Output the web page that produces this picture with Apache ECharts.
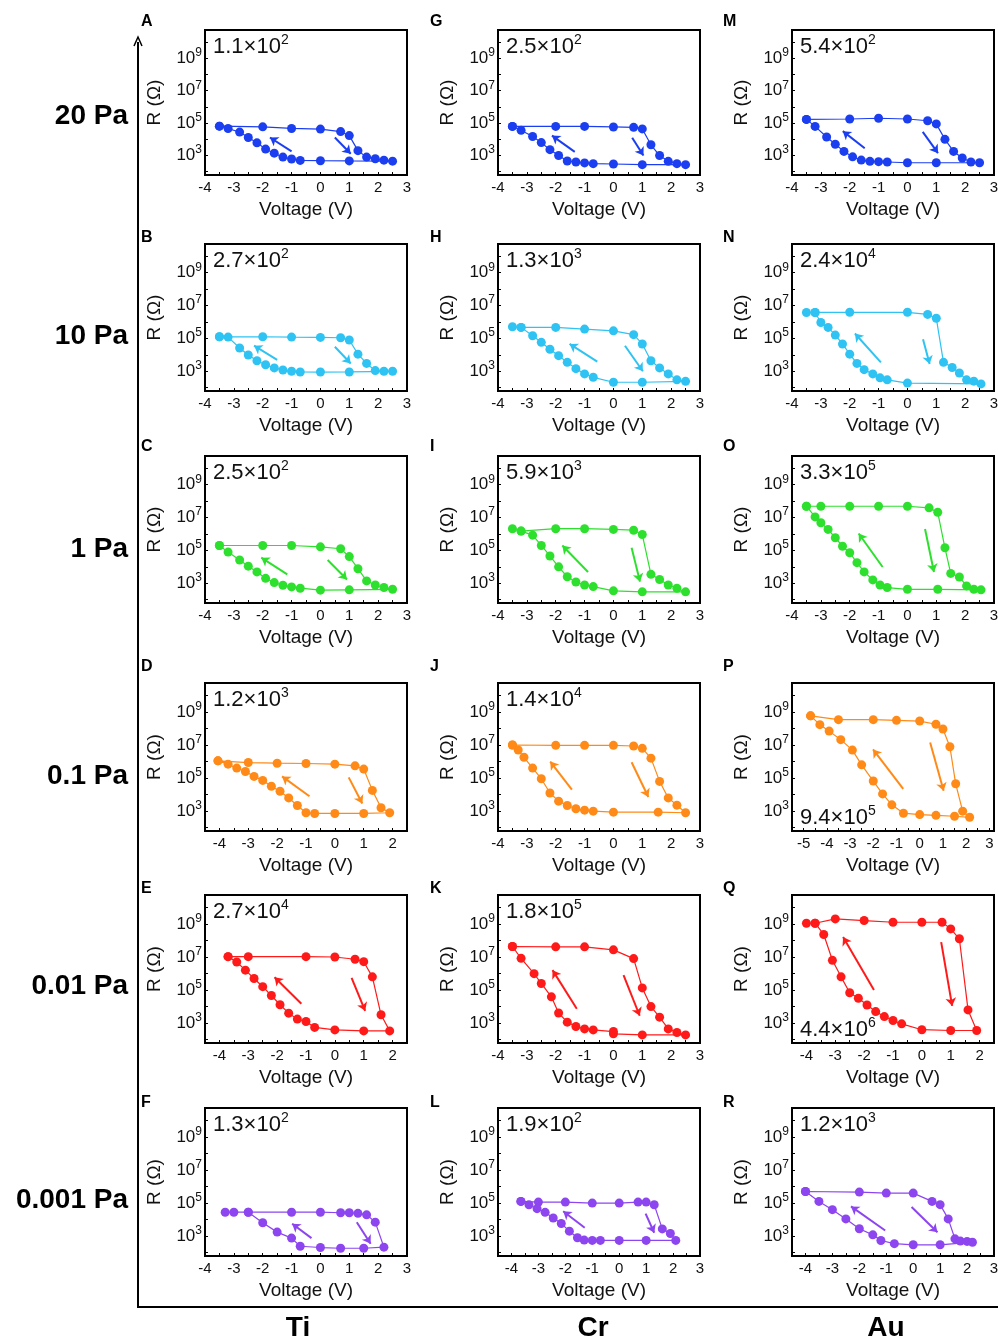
<!DOCTYPE html>
<html><head><meta charset="utf-8">
<script src="https://cdn.jsdelivr.net/npm/echarts@6/dist/echarts.min.js"></script>
<style>html,body{margin:0;padding:0;background:#fff}#c{width:998px;height:1339px}</style>
</head><body><div id="c"></div><script>
// ---------------- DATA ----------------
const rowLabels = ['20 Pa', '10 Pa', '1 Pa', '0.1 Pa', '0.01 Pa', '0.001 Pa'];
const colLabels = ['Ti', 'Cr', 'Au'];
const panelLetters = ['A','B','C','D','E','F','G','H','I','J','K','L','M','N','O','P','Q','R'];
const ratioBase = ['1.1','2.7','2.5','1.2','2.7','1.3','2.5','1.3','5.9','1.4','1.8','1.9','5.4','2.4','3.3','9.4','4.4','1.2'];
const ratioExp  = [2,2,2,3,4,2,2,3,3,4,5,2,2,4,5,5,6,3];
const xMin = [-4,-4,-4,-4.5,-4.5,-4, -4,-4,-4,-4,-4,-4.5, -4,-4,-4,-5.5,-4.5,-4.5];
const xMax = [3,3,3,2.5,2.5,3, 3,3,3,3,3,3, 3,3,3,3.2,2.5,3];
const yLabelExponents = [3, 5, 7, 9];
const yMin = 63, yMax = 5.6e10;

// loops: [voltage (V), resistance (Ohm)]
const loopA = [[-3.5,6.5e4],[-2,5.9e4],[-1,4.7e4],[0,4.3e4],[0.7,3.0e4],[1.0,1.7e4],[1.3,2.0e3],[1.6,800],[1.9,630],[2.2,520],[2.5,450],[1.0,465],[0,480],[-0.7,500],[-1.0,610],[-1.3,800],[-1.6,1.4e3],[-1.9,2.5e3],[-2.2,6.1e3],[-2.5,1.3e4],[-2.8,2.8e4],[-3.2,4.7e4],[-3.5,6.5e4]];
const loopB = [[-3.5,1.26e5],[-2,1.26e5],[-1,1.2e5],[0,1.15e5],[0.7,1.1e5],[1.0,8e4],[1.3,1.1e4],[1.6,3e3],[1.9,1.1e3],[2.2,1e3],[2.5,1e3],[1.0,910],[0,900],[-0.7,910],[-1.0,1e3],[-1.3,1.2e3],[-1.6,1.6e3],[-1.9,2.5e3],[-2.2,4.4e3],[-2.5,9.8e3],[-2.8,2.6e4],[-3.2,1.2e5],[-3.5,1.26e5]];
const loopC = [[-3.5,2e5],[-2,2e5],[-1,2e5],[0,1.66e5],[0.7,1.26e5],[1.0,4.2e4],[1.3,7.7e3],[1.6,1.4e3],[1.9,790],[2.2,550],[2.5,430],[1.0,400],[0,380],[-0.7,500],[-1.0,600],[-1.3,760],[-1.6,1.1e3],[-1.9,2e3],[-2.2,4.9e3],[-2.5,1.1e4],[-2.8,2.6e4],[-3.2,7.9e4],[-3.5,2e5]];
const loopD = [[-4.05,1.1e6],[-3.0,8.7e5],[-2,7.9e5],[-1,7.6e5],[0,6.9e5],[0.7,5.5e5],[1.0,3.5e5],[1.3,1.8e4],[1.6,1.6e3],[1.9,800],[1.0,725],[0,725],[-0.7,725],[-1.0,800],[-1.3,2.2e3],[-1.6,6.3e3],[-1.9,1.6e4],[-2.2,3.2e4],[-2.5,7.2e4],[-2.8,1.26e5],[-3.1,2.5e5],[-3.4,4e5],[-3.7,6.9e5],[-4.05,1.1e6]];
const loopE = [[-3.7,1.05e7],[-3.0,1.05e7],[-1,1.05e7],[0,1e7],[0.7,7.3e6],[1.0,5.2e6],[1.3,6.3e5],[1.6,3.2e3],[1.9,340],[1.0,340],[0,390],[-0.7,550],[-1.0,1.26e3],[-1.3,1.75e3],[-1.6,4e3],[-1.9,1.3e4],[-2.2,4.7e4],[-2.5,1.6e5],[-2.8,5e5],[-3.1,1.6e6],[-3.4,5e6],[-3.7,1.05e7]];
const loopF = [[-3.3,2.8e4],[-3.0,2.8e4],[-2.5,2.8e4],[-1.0,2.8e4],[0,2.8e4],[0.7,2.6e4],[1.0,2.6e4],[1.3,2.4e4],[1.6,1.95e4],[1.9,7e3],[2.2,215],[1.5,185],[0.7,185],[0,205],[-0.7,245],[-1.0,760],[-1.5,1.75e3],[-2.0,6.5e3],[-2.5,2.8e4]];
const loopG = [[-3.5,6.3e4],[-2,6.3e4],[-1,6.3e4],[0,5.8e4],[0.7,5.5e4],[1.0,4.4e4],[1.3,4.6e3],[1.6,1e3],[1.9,440],[2.2,316],[2.5,275],[1.0,275],[0,300],[-0.7,316],[-1.0,350],[-1.3,400],[-1.6,460],[-1.9,1e3],[-2.2,2.3e3],[-2.5,6.3e3],[-2.8,1.5e4],[-3.2,3.6e4],[-3.5,6.3e4]];
const loopH = [[-3.5,5.1e5],[-3.2,4.7e5],[-2,4.7e5],[-1,3.7e5],[0,2.9e5],[0.7,1.7e5],[1.0,4.6e4],[1.3,4.4e3],[1.6,1.6e3],[1.9,690],[2.2,300],[2.5,245],[1.0,215],[0,215],[-0.7,430],[-1.0,690],[-1.3,1.45e3],[-1.6,3.5e3],[-1.9,8.9e3],[-2.2,2.2e4],[-2.5,5.8e4],[-2.8,1.45e5],[-3.2,4.7e5]];
const loopI = [[-3.5,2.1e6],[-3.2,1.5e6],[-2,2.1e6],[-1,2.1e6],[0,1.9e6],[0.7,1.7e6],[1.0,9.3e5],[1.3,3.5e3],[1.6,1.7e3],[1.9,790],[2.2,500],[2.5,300],[1.0,300],[0,345],[-0.7,630],[-1.0,790],[-1.3,1.2e3],[-1.6,2.5e3],[-1.9,1e4],[-2.2,4.6e4],[-2.5,2e5],[-2.8,8.5e5],[-3.2,1.5e6]];
const loopJ = [[-3.5,1e7],[-2,9.5e6],[-1,9.5e6],[0,9.5e6],[0.7,8.7e6],[1.0,6.3e6],[1.3,1.6e6],[1.6,6.3e4],[1.9,6.3e3],[2.2,2.3e3],[2.5,800],[1.55,870],[0,870],[-0.7,1e3],[-1.0,1.15e3],[-1.3,1.4e3],[-1.6,2.2e3],[-1.9,4e3],[-2.2,1.26e4],[-2.5,9.1e4],[-2.8,4e5],[-3.1,1.8e6],[-3.3,5e6],[-3.5,1e7]];
const loopK = [[-3.5,4.3e7],[-2,4.1e7],[-1,4.1e7],[0,2.7e7],[0.7,8e6],[1.0,1.35e5],[1.3,1e4],[1.6,2.3e3],[1.9,450],[2.2,270],[2.5,195],[1.0,195],[0,225],[0,310],[-0.7,390],[-1.0,450],[-1.3,630],[-1.6,1.15e3],[-1.9,4.1e3],[-2.15,3.9e4],[-2.5,2.5e5],[-2.75,9.8e5],[-3.2,8.3e6],[-3.5,4.3e7]];
const loopL = [[-3.65,1.26e5],[-3.0,1.15e5],[-2,1.15e5],[-1,1e5],[0,1e5],[0.7,1.15e5],[1.0,1.15e5],[1.3,7.9e4],[1.6,2.75e3],[1.9,1.45e3],[2.1,550],[1.0,550],[0,550],[-0.7,550],[-1.0,550],[-1.3,575],[-1.55,800],[-1.85,2e3],[-2.15,5.8e3],[-2.45,1.26e4],[-2.75,2.75e4],[-3.05,4.6e4],[-3.35,7.9e4],[-3.65,1.26e5]];
const loopM = [[-3.5,1.7e5],[-2,1.8e5],[-1,2e5],[0,1.8e5],[0.7,1.4e5],[1.0,9e4],[1.3,1e4],[1.6,1.8e3],[1.9,700],[2.2,400],[2.5,360],[1.0,360],[0,360],[-0.7,400],[-1.0,420],[-1.3,440],[-1.6,525],[-1.9,830],[-2.2,1.8e3],[-2.5,5e3],[-2.8,1.4e4],[-3.2,6.3e4],[-3.5,1.7e5]];
const loopN = [[-3.5,3.8e6],[-3.2,3.8e6],[-2,3.9e6],[0,3.9e6],[0.7,2.9e6],[1.0,1.7e6],[1.25,3.5e3],[1.55,1.7e3],[1.8,790],[2.05,300],[2.3,250],[2.55,170],[0,190],[-0.7,300],[-0.95,400],[-1.2,690],[-1.5,1.26e3],[-1.75,3e3],[-2.0,1.1e4],[-2.25,4.6e4],[-2.5,1.6e5],[-2.75,4.7e5],[-3.0,9.3e5],[-3.2,3.8e6]];
const loopO = [[-3.5,4.9e7],[-3.0,4.9e7],[-2,4.9e7],[-1,4.9e7],[0,4.9e7],[0.75,3.9e7],[1.05,2.1e7],[1.3,1.45e5],[1.5,4e3],[1.8,2.4e3],[2.05,690],[2.3,430],[2.55,400],[1.05,430],[0,430],[-0.7,550],[-0.95,790],[-1.2,1.6e3],[-1.5,4.9e3],[-1.75,1.8e4],[-2.0,7.2e4],[-2.25,1.8e5],[-2.5,5.9e5],[-2.75,1.9e6],[-3.0,4.8e6],[-3.2,1.1e7],[-3.5,4.9e7]];
const loopP = [[-4.7,5.8e8],[-3.5,3.4e8],[-2,3.4e8],[-1,3.1e8],[0,2.8e8],[0.7,1.8e8],[1.0,9.3e7],[1.3,7.8e6],[1.55,4.5e4],[1.85,1e3],[2.15,425],[1.5,490],[0.7,560],[0,620],[-0.7,750],[-1.2,2.4e3],[-1.6,1.1e4],[-2.0,6.6e4],[-2.5,6.3e5],[-2.9,4.9e6],[-3.4,2.1e7],[-3.9,6.9e7],[-4.3,1.7e8],[-4.7,5.8e8]];
const loopQ = [[-4.0,1.1e9],[-3.7,1.1e9],[-3.0,2e9],[-2,1.6e9],[-1,1.26e9],[0,1.26e9],[0.7,1.26e9],[1.0,5e8],[1.3,1.26e8],[1.6,6.3e3],[1.9,360],[1.0,360],[0,400],[-0.7,910],[-1.0,1.45e3],[-1.3,2.5e3],[-1.6,5e3],[-1.9,1.26e4],[-2.2,3.2e4],[-2.5,6.9e4],[-2.8,6.3e5],[-3.1,6.3e6],[-3.4,2.3e8],[-3.7,1.1e9]];
const loopR = [[-4.0,5e5],[-2.0,4.6e5],[-1.0,4e5],[0,4e5],[0.7,1.26e5],[1.0,8e4],[1.3,1.1e4],[1.55,690],[1.75,500],[2.0,480],[2.2,430],[1.0,300],[0,300],[-0.7,350],[-1.2,545],[-1.5,1.2e3],[-2.0,2.8e3],[-2.5,1.1e4],[-3.0,4e4],[-3.5,1.26e5],[-4.0,5e5]];

// sweep-direction arrows: [[start],[end]] in data units
const arrowsA = [[[-1.0,1.8e3],[-1.75,1.3e4]],[[0.5,1.3e4],[1.05,1.3e3]]];
const arrowsB = [[[-1.5,4.9e3],[-2.3,3.6e4]],[[0.5,3.1e4],[1.05,3e3]]];
const arrowsC = [[[-1.15,3.5e3],[-2.05,3.6e4]],[[0.25,2.6e4],[0.92,1.7e3]]];
const arrowsD = [[[-0.88,7.9e3],[-1.83,1.26e5]],[[0.48,1.1e5],[0.95,2.9e3]]];
const arrowsE = [[[-1.16,1.5e4],[-2.09,6e5]],[[0.58,5.5e5],[1.05,5.6e3]]];
const arrowsF = [[[-0.31,760],[-0.98,5.6e3]],[[1.26,7e3],[1.74,350]]];
const arrowsG = [[[-1.34,1.7e3],[-2.13,1.7e4]],[[0.65,1.26e4],[1.04,1e3]]];
const arrowsH = [[[-0.56,3.9e3],[-1.52,4.6e4]],[[0.4,3.6e4],[1.02,1e3]]];
const arrowsI = [[[-0.88,4.9e3],[-1.77,2e5]],[[0.63,1.45e5],[0.92,1.26e3]]];
const arrowsJ = [[[-1.44,2e4],[-2.19,1e6]],[[0.63,9.1e5],[1.21,7.2e3]]];
const arrowsK = [[[-1.27,7.5e3],[-2.11,1.6e6]],[[0.35,8.1e5],[0.91,2.8e3]]];
const arrowsL = [[[-1.28,3.2e3],[-2.08,3.2e4]],[[0.98,2.3e4],[1.3,1.6e3]]];
const arrowsM = [[[-1.48,2.8e3],[-2.24,3.2e4]],[[0.53,2.9e4],[1.06,1.4e3]]];
const arrowsN = [[[-0.92,3.5e3],[-1.82,2e5]],[[0.54,9e4],[0.77,2.8e3]]];
const arrowsO = [[[-0.86,9.8e3],[-1.69,1.07e6]],[[0.61,2e6],[0.92,4.9e3]]];
const arrowsP = [[[-0.71,2.2e4],[-2.01,5.4e6]],[[0.45,1.4e7],[1.03,1.7e4]]];
const arrowsQ = [[[-1.66,1e5],[-2.73,1.6e8]],[[0.67,7.9e7],[1.05,1.1e4]]];
const arrowsR = [[[-1.04,2.2e3],[-2.31,6.3e4]],[[-0.06,5.8e4],[0.9,1.7e3]]];

const loops = [loopA,loopB,loopC,loopD,loopE,loopF,loopG,loopH,loopI,loopJ,loopK,loopL,loopM,loopN,loopO,loopP,loopQ,loopR];
const arrows = [arrowsA,arrowsB,arrowsC,arrowsD,arrowsE,arrowsF,arrowsG,arrowsH,arrowsI,arrowsJ,arrowsK,arrowsL,arrowsM,arrowsN,arrowsO,arrowsP,arrowsQ,arrowsR];
const rowColors = ['#1b3ff0', '#2ec3f2', '#2ee02e', '#ff8a17', '#ff1a1a', '#8c45ef'];

// ---------------- LAYOUT ----------------
const FONT = '"Liberation Sans", Arial, sans-serif';
const colLeft = [205, 498, 792];
const rowTop = [30, 244, 456, 683, 895, 1108];
const rowH = [145, 147, 147, 148, 148, 148];
const W = 202;
const letterX = [141, 430, 723];
const letterY = [22, 238, 447, 667, 889, 1103];
const rowLabelY = [116, 336, 549, 776, 986, 1200];
const colLabelX = [298, 593, 886];
const ratioBottom = { P: true, Q: true };

const grids = [], xAxes = [], yAxes = [], series = [], graphics = [];
const supRich = (big, small) => ({
  n: { fontFamily: FONT, fontSize: big, color: '#111' },
  s: { fontFamily: FONT, fontSize: small, color: '#111', padding: [0, 0, Math.round(big * 0.62), 0] }
});

for (let c = 0; c < 3; c++) {
  for (let r = 0; r < 6; r++) {
    const i = c * 6 + r;
    const left = colLeft[c], top = rowTop[r], h = rowH[r];
    const color = rowColors[r];
    grids.push({ left, top, width: W, height: h, show: true, borderColor: '#000', borderWidth: 2,
      backgroundColor: 'rgba(0,0,0,0)', containLabel: false, outerBoundsMode: 'none' });
    xAxes.push({
      gridIndex: i, type: 'value', min: xMin[i], max: xMax[i], interval: 0.5,
      name: 'Voltage (V)', nameLocation: 'middle', nameGap: 25,
      nameTextStyle: { fontFamily: FONT, fontSize: 19, color: '#111' },
      axisLine: { show: true, onZero: false, lineStyle: { color: '#000', width: 2 } },
      axisTick: { show: true, inside: true, length: 3, lineStyle: { color: '#000', width: 1 } },
      axisLabel: { show: true, interval: 0, margin: 5, fontFamily: FONT, fontSize: 15, color: '#111',
        formatter: v => Math.abs(v - Math.round(v)) < 1e-9 ? String(Math.round(v) === 0 ? 0 : Math.round(v)) : '' },
      splitLine: { show: false }
    });
    yAxes.push({
      gridIndex: i, type: 'log', logBase: 10, min: yMin, max: yMax, splitNumber: 8,
      name: 'R (Ω)', nameLocation: 'middle', nameGap: 41, nameRotate: 90,
      nameTextStyle: { fontFamily: FONT, fontSize: 19, color: '#111' },
      axisLine: { show: true, onZero: false, lineStyle: { color: '#000', width: 2 } },
      axisTick: { show: true, inside: true, length: 3, lineStyle: { color: '#000', width: 1 } },
      axisLabel: { show: true, margin: 3, fontFamily: FONT, fontSize: 17, color: '#111',
        formatter: v => {
          const l = Math.log10(v), e = Math.round(l);
          if (Math.abs(l - e) > 0.01 || yLabelExponents.indexOf(e) < 0) return '';
          return '{n|10}{s|' + e + '}';
        },
        rich: supRich(17, 12) },
      splitLine: { show: false }
    });
    series.push({
      type: 'line', xAxisIndex: i, yAxisIndex: i, data: loops[i],
      symbol: 'circle', symbolSize: 9, showSymbol: true,
      lineStyle: { color, width: 1.2 }, itemStyle: { color },
      animation: false, z: 3,
      markLine: {
        silent: true, animation: false, symbol: ['none', 'arrow'], symbolSize: 8,
        label: { show: false },
        lineStyle: { color, width: 2, type: 'solid' },
        emphasis: { disabled: true },
        data: arrows[i].map(a => [{ coord: a[0] }, { coord: a[1] }])
      }
    });
    // panel letter
    graphics.push({ type: 'text', x: letterX[c], y: letterY[r],
      style: { text: panelLetters[i], fill: '#000', fontFamily: FONT, fontSize: 16, fontWeight: 'bold',
        textAlign: 'left', textVerticalAlign: 'middle' } });
    // ratio annotation
    const bottom = ratioBottom[panelLetters[i]];
    graphics.push({ type: 'text', x: left + 8, y: bottom ? top + h - 13 : top + 17,
      style: { text: '{n|' + ratioBase[i] + '×10}{s|' + ratioExp[i] + '}', rich: supRich(22, 14),
        textAlign: 'left', textVerticalAlign: 'middle', fill: '#111' } });
  }
}
// row labels (pressure)
rowLabels.forEach((t, r) => graphics.push({ type: 'text', x: 128, y: rowLabelY[r],
  style: { text: t, fill: '#000', fontFamily: FONT, fontSize: 28, fontWeight: 'bold', textAlign: 'right', textVerticalAlign: 'middle' } }));
// column labels (metal)
colLabels.forEach((t, c) => graphics.push({ type: 'text', x: colLabelX[c], y: 1328,
  style: { text: t, fill: '#000', fontFamily: FONT, fontSize: 28, fontWeight: 'bold', textAlign: 'center', textVerticalAlign: 'middle' } }));
// frame arrow lines
graphics.push({ type: 'line', shape: { x1: 138, y1: 1307, x2: 138, y2: 42 }, style: { stroke: '#000', lineWidth: 2 } });
graphics.push({ type: 'line', shape: { x1: 137, y1: 1307, x2: 998, y2: 1307 }, style: { stroke: '#000', lineWidth: 2 } });
graphics.push({ type: 'polyline', shape: { points: [[134, 46], [138, 37], [142, 46]] }, style: { stroke: '#000', lineWidth: 1.5, fill: null } });

const chart = echarts.init(document.getElementById('c'), null, { renderer: 'canvas' });
chart.setOption({
  animation: false,
  backgroundColor: '#fff',
  textStyle: { fontFamily: FONT },
  grid: grids, xAxis: xAxes, yAxis: yAxes, series,
  graphic: { elements: graphics }
});
</script></body></html>
